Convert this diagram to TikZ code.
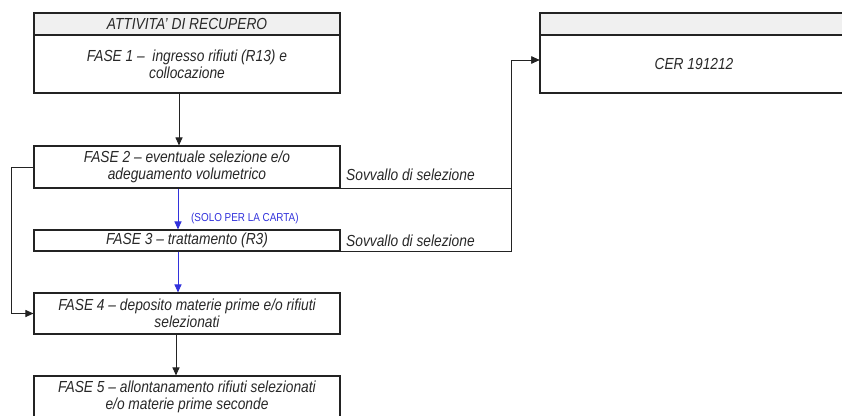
\documentclass[tikz,border=0pt]{standalone}
\usepackage{fontspec}
\setmainfont{Liberation Sans}[FakeStretch=0.86]
\usetikzlibrary{arrows.meta,calc}
\definecolor{txt}{RGB}{40,40,40}
\definecolor{ln}{RGB}{35,35,35}
\definecolor{hdrfill}{RGB}{240,240,240}
\definecolor{blu}{RGB}{50,50,220}
\begin{document}
\begin{tikzpicture}[x=1pt,y=-1pt,
  box/.style={draw=ln, line width=1.1pt, minimum width=306pt, inner sep=0pt,
    align=center, font=\itshape\fontsize{16}{17}\selectfont, text=txt},
  hdr/.style={box, fill=hdrfill, minimum height=22pt},
  lbl/.style={inner sep=0pt, font=\itshape\fontsize{16}{17}\selectfont, text=txt},
  arr/.style={draw=ln, line width=1pt, -{Triangle[length=8pt,width=7pt]}},
  barr/.style={arr, draw=blu, -{Triangle[length=8pt,width=7pt,fill=blu]}}
]
\useasboundingbox (0,0) rectangle (842,415);
\clip (0,0) rectangle (842,415);
\fill[white] (0,0) rectangle (842,415);

% left column
\node[hdr] (h1) at (187,24) {ATTIVITA' DI RECUPERO};
\node[box, minimum height=58pt] (f1) at (187,64) {FASE 1 –\ \ ingresso rifiuti (R13) e\\collocazione};
\node[box, minimum height=42pt] (f2) at (187,167) {FASE 2 – eventuale selezione e/o\\adeguamento volumetrico};
\node[box, minimum height=21pt] (f3) at (187,240.5) {FASE 3 – trattamento (R3)};
\node[box, minimum height=41pt] (f4) at (187,313.5) {FASE 4 – deposito materie prime e/o rifiuti\\selezionati};
\node[box, minimum height=41pt] (f5) at (187,396.5) {FASE 5 – allontanamento rifiuti selezionati\\e/o materie prime seconde};

% right column
\node[hdr, minimum width=308pt] (h2) at (694,24) {};
\node[box, minimum width=308pt, minimum height=58pt] (cer) at (694,64) {CER 191212};

% labels
\node[lbl, anchor=base west] (s1) at (346,180) {Sovvallo di selezione};
\node[lbl, anchor=base west] (s2) at (346,246) {Sovvallo di selezione};
\node[inner sep=0pt, anchor=west, text=blu, font=\fontsize{11.5}{12}\selectfont] (lab) at (191,219) {(SOLO PER LA CARTA)};

% connectors
\coordinate (cin) at ($(cer.west)+(0,-4)$);
\draw[arr] (f2.south east) -| ($(cin)+(-28,0)$) -- (cin);
\draw[arr] (f3.south east) -| ($(cin)+(-28,0)$) -- (cin);
\draw[arr] (f2.west) -- ++(-22,0) |- (f4.west);

\draw[arr] ([xshift=-8pt]f1.south) -- ([xshift=-8pt]f2.north);
\draw[barr] ([xshift=-9pt]f2.south) -- ([xshift=-9pt]f3.north);
\draw[barr] ([xshift=-9pt]f3.south) -- ([xshift=-9pt]f4.north);
\draw[arr] ([xshift=-11pt]f4.south) -- ([xshift=-11pt]f5.north);
\end{tikzpicture}
\end{document}
